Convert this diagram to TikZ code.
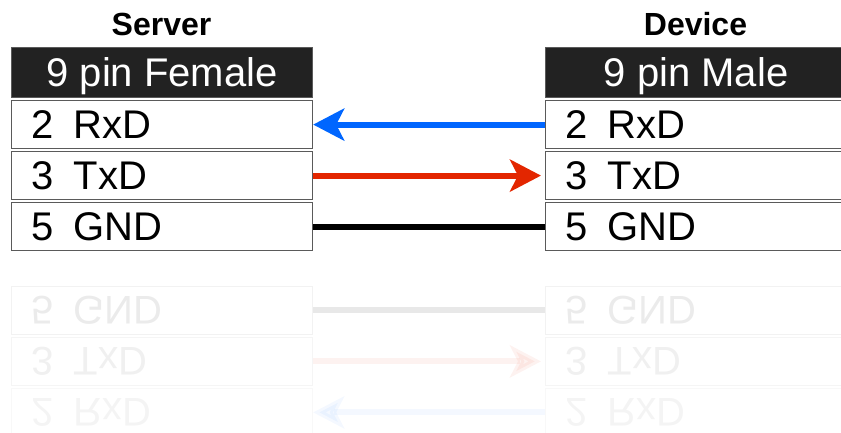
\documentclass[tikz,border=0pt]{standalone}
\usepackage{fontspec}
\setmainfont{Liberation Sans}
\usetikzlibrary{arrows.meta}
\definecolor{rxblue}{RGB}{0,102,255}
\definecolor{txred}{RGB}{227,38,0}
\definecolor{framegray}{RGB}{90,90,90}
\definecolor{headblack}{RGB}{34,34,34}

\begin{document}
\begin{tikzpicture}[x=1pt, y=-1pt,
    title/.style={font=\fontsize{32}{32}\selectfont\bfseries, anchor=base},
    header/.style={rectangle, draw=framegray, line width=1.2pt, fill=headblack, text=white, minimum width=301pt, minimum height=50pt, inner sep=0pt, text height=28pt, text depth=0pt, font=\fontsize{40}{40}\selectfont, anchor=north west},
    pinrow/.style={rectangle, draw=framegray, line width=1.2pt, minimum width=301pt, minimum height=48pt, text width=261pt, inner xsep=20pt, inner ysep=0pt, text height=28pt, text depth=0pt, align=left, font=\fontsize{40}{40}\selectfont, anchor=north west},
    wire/.style={line width=6pt},
    signal/.style={wire, -{Stealth[length=31pt, width=32pt, inset=8pt]}}
]
\clip (0,0) rectangle (841,432);

% Server side
\node[title] (servertitle) at (161.5,35) {Server};
\node[header] (shead) at (11,47) {9 pin Female};
\node[pinrow] (srxd) at (11,100) {2\enspace RxD};
\node[pinrow] (stxd) at (11,151) {3\enspace TxD};
\node[pinrow] (sgnd) at (11,202) {5\enspace GND};

% Device side
\node[title] (devicetitle) at (695.5,35) {Device};
\node[header] (dhead) at (545,47) {9 pin Male};
\node[pinrow] (drxd) at (545,100) {2\enspace RxD};
\node[pinrow] (dtxd) at (545,151) {3\enspace TxD};
\node[pinrow] (dgnd) at (545,202) {5\enspace GND};

% Wires
\draw[signal, rxblue] (drxd.west) -- (srxd.east);
\draw[signal, txred, shorten >=4pt] (stxd.east) -- (dtxd.west);
\draw[wire] (sgnd.east) -- (dgnd.west);

% Reflection
\begin{scope}[shift={(0,537)}, yscale=-1, transform shape]
\node[pinrow, opacity=0.045] (rsrxd) at (11,100) {2\enspace RxD};
\node[pinrow, opacity=0.06] (rstxd) at (11,151) {3\enspace TxD};
\node[pinrow, opacity=0.08] (rsgnd) at (11,202) {5\enspace GND};
\node[pinrow, opacity=0.045] (rdrxd) at (545,100) {2\enspace RxD};
\node[pinrow, opacity=0.06] (rdtxd) at (545,151) {3\enspace TxD};
\node[pinrow, opacity=0.08] (rdgnd) at (545,202) {5\enspace GND};
\draw[signal, rxblue, opacity=0.045] (rdrxd.west) -- (rsrxd.east);
\draw[signal, txred, opacity=0.06, shorten >=4pt] (rstxd.east) -- (rdtxd.west);
\draw[wire, opacity=0.09] (rsgnd.east) -- (rdgnd.west);
\end{scope}

\end{tikzpicture}
\end{document}
